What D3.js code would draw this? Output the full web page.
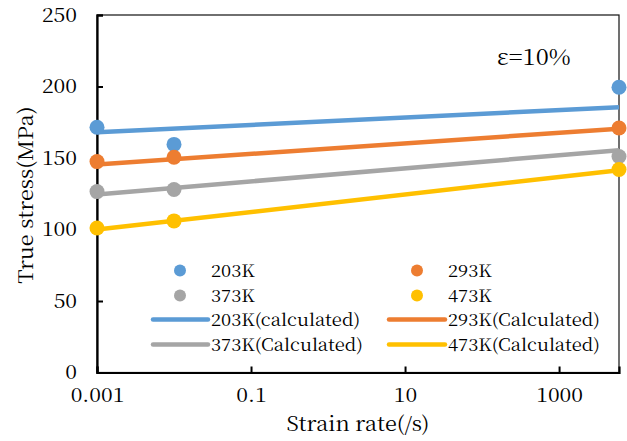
<!DOCTYPE html>
<html><head><meta charset="utf-8">
<script src="https://cdn.jsdelivr.net/npm/d3@7"></script>
<style>body{margin:0;background:#fff}</style>
</head><body>
<svg id="c" width="627" height="441"></svg>
<script>
const strainRates = [0.001, 0.01, 6000];
const series = ["203K", "293K", "373K", "473K"];
const measured = {
  "203K": [171.5, 159.5, 199.5],
  "293K": [147.5, 150.5, 171],
  "373K": [126.5, 128, 151],
  "473K": [101, 106, 142]
};
const calcRates = [0.001, 6000];
const calculated = {
  "203K": [168, 185.5],
  "293K": [145.5, 170.5],
  "373K": [124.5, 155.5],
  "473K": [100, 141.5]
};
const calcLabels = ["203K(calculated)", "293K(Calculated)", "373K(Calculated)", "473K(Calculated)"];
const colors = ["#5B9BD5", "#ED7D31", "#A5A5A5", "#FFC000"];
const xTicks = [0.001, 0.1, 10, 1000];
const yTicks = [0, 50, 100, 150, 200, 250];

const FONT = '"Noto Serif CJK JP"';
function font(sel, size) {
  sel.style("font-family", FONT).style("font-size", size + "px").style("fill", "#000");
}
function stretch(sel, k) {
  sel.each(function () {
    const t = d3.select(this);
    const X = +t.attr("x") || 0;
    const prev = t.attr("transform") || "";
    t.attr("transform", `${prev} translate(${X * (1 - k)},0) scale(${k},1)`);
  });
}

const svg = d3.select("#c");
const L = 97, R = 619, T = 15, B = 372.5;
const x = d3.scaleLog().domain([0.001, 6000]).range([L, R]);
const y = d3.scaleLinear().domain([0, 250]).range([B, T]);

// frame
svg.append("rect").attr("x", L).attr("y", T).attr("width", R - L).attr("height", B - T)
  .attr("fill", "none").attr("stroke", "#111").attr("stroke-width", 1.2);

// axes
const xAxis = d3.axisBottom(x).tickValues(xTicks).tickSize(-6).tickFormat(d => String(d)).tickPadding(16);
const gx = svg.append("g").attr("transform", `translate(0,${B})`).call(xAxis);
gx.select(".domain").attr("stroke", "#000").attr("stroke-width", 2.2);
gx.selectAll(".tick line").attr("stroke", "#000").attr("stroke-width", 2);
gx.selectAll(".tick text").call(font, 19).call(stretch, 1.12);

const yAxis = d3.axisLeft(y).tickValues(yTicks).tickSize(-6).tickPadding(20);
const gy = svg.append("g").attr("transform", `translate(${L},0)`).call(yAxis);
gy.select(".domain").attr("stroke", "#000").attr("stroke-width", 2.2);
gy.selectAll(".tick line").attr("stroke", "#000").attr("stroke-width", 2);
gy.selectAll(".tick text").call(font, 19).call(stretch, 1.12);

// calculated lines
const line = d3.line().x(d => x(d[0])).y(d => y(d[1]));
series.forEach((s, i) => {
  svg.append("path").datum(calcRates.map((r, j) => [r, calculated[s][j]]))
    .attr("d", line).attr("fill", "none").attr("stroke", colors[i]).attr("stroke-width", 4.5);
});
// measured points
series.forEach((s, i) => {
  svg.append("g").selectAll("circle").data(strainRates.map((r, j) => [r, measured[s][j]]))
    .join("circle").attr("cx", d => x(d[0])).attr("cy", d => y(d[1])).attr("r", 7.5)
    .attr("fill", colors[i]);
});

// legend
const legCols = [{mx: 180, tx: 211, lx1: 153, lx2: 208}, {mx: 417, tx: 448, lx1: 389, lx2: 445}];
const legRows = [270.5, 295.5, 319.5, 344.5];
series.forEach((s, i) => {
  const c = legCols[i % 2];
  const ry = legRows[Math.floor(i / 2)];
  svg.append("circle").attr("cx", c.mx).attr("cy", ry).attr("r", 6).attr("fill", colors[i]);
  svg.append("text").attr("x", c.tx).attr("y", ry).attr("dy", "0.36em").text(s).call(font, 17).call(stretch, 1.08);
  const ry2 = legRows[2 + Math.floor(i / 2)];
  svg.append("line").attr("x1", c.lx1).attr("x2", c.lx2).attr("y1", ry2).attr("y2", ry2)
    .attr("stroke", colors[i]).attr("stroke-width", 4.5).attr("stroke-linecap", "round");
  svg.append("text").attr("x", c.tx).attr("y", ry2).attr("dy", "0.36em").text(calcLabels[i]).call(font, 17).call(stretch, 1.08);
});

// annotation
svg.append("text").attr("x", 497).attr("y", 65).text("ε=10%").call(font, 22).call(stretch, 1.08);

// axis titles
svg.append("text").attr("x", 358).attr("y", 431).attr("text-anchor", "middle").text("Strain rate(/s)").call(font, 20).call(stretch, 1.08);
svg.append("text").attr("transform", "translate(33,195) rotate(-90) scale(1.08,1)").attr("text-anchor", "middle").text("True stress(MPa)").call(font, 20);
</script>
</body></html>
